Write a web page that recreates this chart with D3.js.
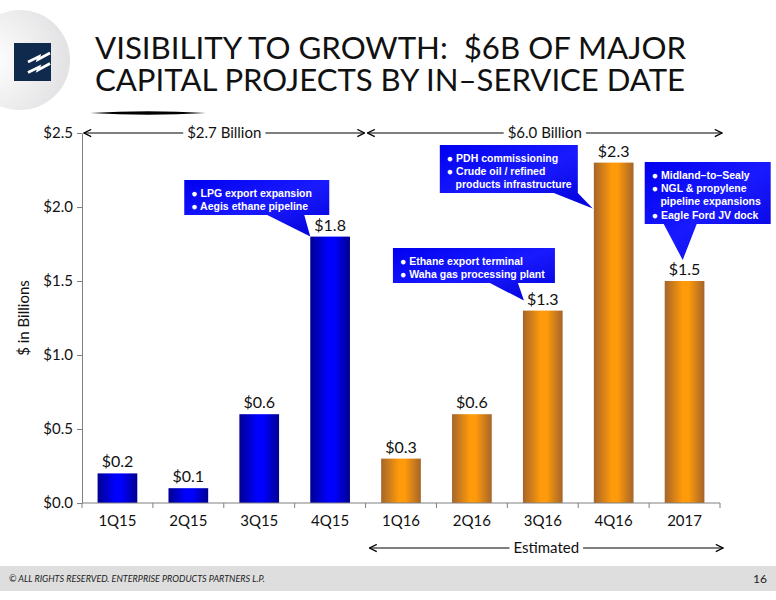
<!DOCTYPE html>
<html lang="en">
<head>
  <meta charset="UTF-8">
  <title>Visibility to Growth</title>
  <style>
    body { margin: 0; background: #fff; }
    svg { display: block; font-family: Lato, "Open Sans", sans-serif; }
  </style>
  <script src="https://d3js.org/d3.v7.min.js"></script>
</head>
<body>
  <div id="chart"></div>

  <script>
    // chart values
    const categories = ["1Q15", "2Q15", "3Q15", "4Q15", "1Q16", "2Q16", "3Q16", "4Q16", "2017"];
    const values = [0.2, 0.1, 0.6, 1.8, 0.3, 0.6, 1.3, 2.3, 1.5];
    const estimated = [false, false, false, false, true, true, true, true, true];
    const yTicks = [0, 0.5, 1.0, 1.5, 2.0, 2.5];

    const spanLabels = ["$2.7 Billion", "$6.0 Billion"];
    const spanFrom = ["1Q15", "1Q16"];
    const spanTo = ["4Q15", "2017"];

    const calloutTarget = ["4Q15", "3Q16", "4Q16", "2017"];
    const calloutLines = [
      ["● LPG export expansion", "● Aegis ethane pipeline"],
      ["● Ethane export terminal", "● Waha gas processing plant"],
      ["● PDH commissioning", "● Crude oil / refined", "   products infrastructure"],
      ["● Midland–to–Sealy", "● NGL & propylene", "   pipeline expansions", "● Eagle Ford JV dock"]
    ];

    const W = 776, H = 600;
    const svg = d3.select("#chart").append("svg")
      .attr("width", W).attr("height", H);

    const defs = svg.append("defs");

    function barGradient(id, edge, mid) {
      const g = defs.append("linearGradient").attr("id", id)
        .attr("x1", "0%").attr("x2", "100%").attr("y1", "0%").attr("y2", "0%");
      g.append("stop").attr("offset", "0%").attr("stop-color", edge);
      g.append("stop").attr("offset", "45%").attr("stop-color", mid);
      g.append("stop").attr("offset", "60%").attr("stop-color", mid);
      g.append("stop").attr("offset", "100%").attr("stop-color", edge);
    }
    barGradient("gBlue", "#000090", "#0000ff");
    barGradient("gOrange", "#a5652a", "#ff9a0a");

    const cg = defs.append("linearGradient").attr("id", "gCallout")
      .attr("x1", "0%").attr("x2", "100%").attr("y1", "0%").attr("y2", "100%");
    cg.append("stop").attr("offset", "0%").attr("stop-color", "#0000f0");
    cg.append("stop").attr("offset", "50%").attr("stop-color", "#1a1aff");
    cg.append("stop").attr("offset", "100%").attr("stop-color", "#0000d8");

    const lg = defs.append("radialGradient").attr("id", "gLogo")
      .attr("cx", "20%").attr("cy", "50%").attr("r", "80%");
    lg.append("stop").attr("offset", "0%").attr("stop-color", "#ffffff");
    lg.append("stop").attr("offset", "100%").attr("stop-color", "#e2e2e4");

    // logo
    svg.append("circle").attr("cx", 20).attr("cy", 60).attr("r", 50).attr("fill", "url(#gLogo)");
    svg.append("rect").attr("x", 14).attr("y", 43).attr("width", 37).attr("height", 38).attr("fill", "#0f2a4d");
    svg.append("path")
      .attr("d", "M28,62 L39,56.5 L38,59.5 L50,53 M28,72.5 L39,67 L38,70 L50,63.5")
      .attr("fill", "none").attr("stroke", "#fff").attr("stroke-width", 2.6)
      .attr("stroke-linejoin", "miter");

    // title
    const title = svg.append("g").attr("fill", "#111");
    title.append("text").attr("x", 95).attr("y", 59).attr("xml:space", "preserve")
      .style("white-space", "pre")
      .attr("textLength", 591).attr("lengthAdjust", "spacingAndGlyphs")
      .style("font-size", "31px").text("VISIBILITY TO GROWTH:  $6B OF MAJOR");
    title.append("text").attr("x", 95).attr("y", 91)
      .attr("textLength", 590).attr("lengthAdjust", "spacingAndGlyphs")
      .style("font-size", "31px").text("CAPITAL PROJECTS BY IN–SERVICE DATE");
    svg.append("path").attr("d", "M90,113 Q148,109.5 206,113 Q148,116.5 90,113 Z").attr("fill", "#000");

    // scales
    const x = d3.scaleBand().domain(categories).range([82, 720])
      .paddingInner(0.44).paddingOuter(0.22);
    const y = d3.scaleLinear().domain([0, 2.5]).range([503, 133]);
    const step = x.step();
    const bandLeft = c => x(c) - (step - x.bandwidth()) / 2;
    const bandRight = c => bandLeft(c) + step;

    // y axis
    const yAxis = svg.append("g").attr("transform", "translate(82,0)")
      .call(d3.axisLeft(y).tickValues(yTicks).tickSize(5).tickSizeOuter(0)
        .tickFormat(d => "$" + d3.format(".1f")(d)));
    yAxis.select(".domain").attr("stroke", "#808080");
    yAxis.selectAll(".tick line").attr("stroke", "#808080");
    yAxis.selectAll(".tick text").attr("x", -9).attr("fill", "#111")
      .style("font-size", "15px").style("font-family", "Lato, sans-serif");

    svg.append("text").attr("transform", "translate(29,318) rotate(-90)")
      .attr("text-anchor", "middle").attr("fill", "#111")
      .style("font-size", "15px").text("$ in Billions");

    // bars
    svg.selectAll(".bar").data(categories).enter().append("rect")
      .attr("class", "bar")
      .attr("x", d => x(d))
      .attr("width", x.bandwidth())
      .attr("y", (d, i) => y(values[i]))
      .attr("height", (d, i) => y(0) - y(values[i]))
      .attr("fill", (d, i) => estimated[i] ? "url(#gOrange)" : "url(#gBlue)");

    svg.selectAll(".vlabel").data(categories).enter().append("text")
      .attr("class", "vlabel")
      .attr("x", d => x(d) + x.bandwidth() / 2)
      .attr("y", (d, i) => y(values[i]) - 6)
      .attr("text-anchor", "middle").attr("fill", "#111")
      .style("font-size", "16px")
      .text((d, i) => "$" + d3.format(".1f")(values[i]));

    // x axis
    const xAxis = svg.append("g").attr("transform", "translate(0,503)")
      .call(d3.axisBottom(x).tickSize(0).tickSizeOuter(0));
    xAxis.select(".domain").attr("stroke", "#808080").attr("d", "M82,0H720");
    xAxis.selectAll(".tick text").attr("dy", "1.35em").attr("fill", "#111")
      .style("font-size", "15px").style("font-family", "Lato, sans-serif");
    xAxis.selectAll(".bound").data([82].concat(categories.map(bandRight))).enter()
      .append("line").attr("class", "bound")
      .attr("x1", d => d).attr("x2", d => d).attr("y1", 0).attr("y2", 5)
      .attr("stroke", "#808080");

    // arrows
    defs.append("marker").attr("id", "arrowHead").attr("viewBox", "0 0 10 10")
      .attr("refX", 9).attr("refY", 5).attr("markerWidth", 9).attr("markerHeight", 9)
      .attr("markerUnits", "userSpaceOnUse").attr("orient", "auto-start-reverse")
      .append("path").attr("d", "M1,1 L9,5 L1,9").attr("fill", "none")
      .attr("stroke", "#000").attr("stroke-width", 1.4);

    function spanArrow(x0, x1, yy, label, size) {
      const g = svg.append("g");
      const t = g.append("text").attr("x", (x0 + x1) / 2).attr("y", yy)
        .attr("dy", "0.35em").attr("text-anchor", "middle").attr("fill", "#111")
        .style("font-size", size + "px").text(label);
      const w = t.node().getComputedTextLength() / 2 + 4;
      const cx = (x0 + x1) / 2;
      g.append("line").attr("x1", cx - w).attr("x2", x0).attr("y1", yy).attr("y2", yy)
        .attr("stroke", "#000").attr("stroke-width", 1.2).attr("marker-end", "url(#arrowHead)");
      g.append("line").attr("x1", cx + w).attr("x2", x1).attr("y1", yy).attr("y2", yy)
        .attr("stroke", "#000").attr("stroke-width", 1.2).attr("marker-end", "url(#arrowHead)");
    }
    spanLabels.forEach((lab, i) => {
      spanArrow(bandLeft(spanFrom[i]) + 2, bandRight(spanTo[i]) + (i ? 2 : -1), 133, lab, 15);
    });
    spanArrow(bandLeft("1Q16") + 4, bandRight("2017") + 3, 548, "Estimated", 15);

    // callouts: box offsets relative to the target bar's left/top
    const calloutBox = [
      { dx: -126, y: 180, w: 145, h: 35, p0: -43, p1: -6, tx: 0, ty: 0 },
      { dx: -130, y: 248, w: 162, h: 35, p0: -33, p1: -5, tx: 1, ty: -10 },
      { dx: -154, y: 145, w: 138, h: 48, p0: -40, p1: -16, tx: -1, ty: 46 },
      { dx: -20, y: 162, w: 126, h: 62, p0: -1, p1: 32, tx: 18, ty: -21 }
    ];
    const callouts = svg.append("g");
    calloutTarget.forEach((c, i) => {
      const b = calloutBox[i];
      const bx = x(c) + b.dx;
      const tipX = x(c) + b.tx;
      const tipY = y(values[categories.indexOf(c)]) + b.ty;
      const bottom = b.y + b.h;
      const path = `M${bx},${b.y} H${bx + b.w} V${bottom} ` +
        `H${x(c) + b.p1} L${tipX},${tipY} L${x(c) + b.p0},${bottom} H${bx} Z`;
      callouts.append("path").attr("d", path).attr("fill", "url(#gCallout)");
      callouts.append("text").attr("x", bx + 7).attr("y", b.y + 4)
        .attr("fill", "#fff").style("font-family", "'Liberation Sans', Arial, sans-serif")
        .style("font-weight", "bold").style("font-size", "10.5px")
        .style("white-space", "pre").attr("xml:space", "preserve")
        .selectAll("tspan").data(calloutLines[i]).enter().append("tspan")
        .attr("x", bx + 7).attr("dy", "1.25em").text(d => d);
    });

    // footer
    svg.append("rect").attr("x", 0).attr("y", 566).attr("width", W).attr("height", 25).attr("fill", "#dedede");
    svg.append("text").attr("x", 9).attr("y", 582).attr("fill", "#222")
      .style("font-size", "9px").style("font-style", "italic")
      .text("© ALL RIGHTS RESERVED. ENTERPRISE PRODUCTS PARTNERS L.P.");
    svg.append("text").attr("x", 767).attr("y", 583).attr("text-anchor", "end").attr("fill", "#222")
      .style("font-size", "12px").text("16");
  </script>
</body>
</html>
